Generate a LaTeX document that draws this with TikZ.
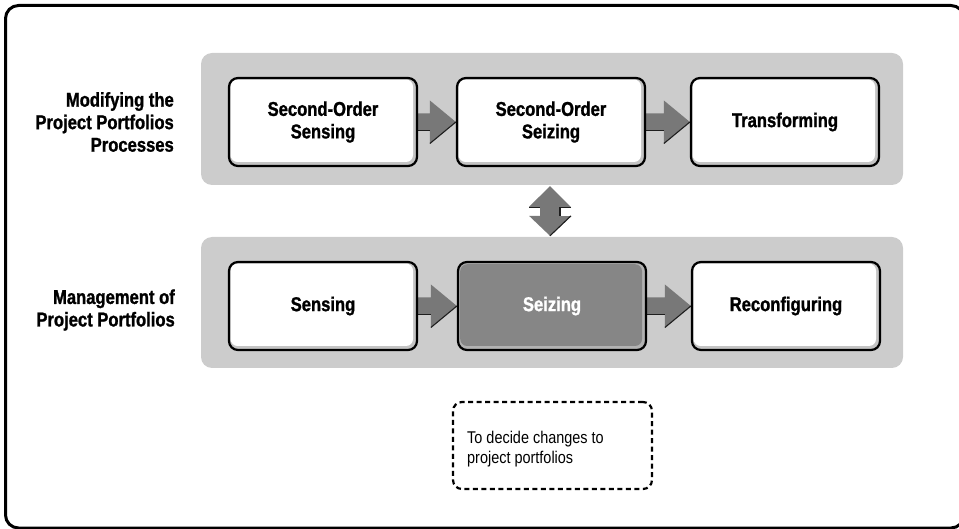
\documentclass[tikz,border=0pt]{standalone}
\usepackage{fontspec}
\setmainfont[FakeStretch=0.85,
  BoldFeatures={FakeStretch=0.83, FakeBold=1.2}]{Liberation Sans}
\usetikzlibrary{calc}
\definecolor{panelgrey}{HTML}{CCCCCC}
\definecolor{arrowgrey}{HTML}{787878}
\definecolor{edgedark}{HTML}{1E1E1E}
\definecolor{boxshade}{HTML}{C4C4C4}
\definecolor{activefill}{HTML}{868686}
\definecolor{activeshade}{HTML}{B2B2B2}
\pgfdeclarelayer{panels}
\pgfdeclarelayer{arrows}
\pgfsetlayers{panels,arrows,main}

% horizontal block arrow from the right side of one box to the left side of the next
\newcommand\flowarrow[2]{%
  \fill[arrowgrey] ($(#1.east)+(-1pt,8.5pt)$) -- ($(#2.west)+(-26pt,8.5pt)$)
    -- ($(#2.west)+(-26pt,21.5pt)$) -- (#2.west) -- ($(#2.west)+(-26pt,-21.5pt)$)
    -- ($(#2.west)+(-26pt,-8.5pt)$) -- ($(#1.east)+(-1pt,-8.5pt)$) -- cycle;
  \draw[edgedark, line width=1.1pt] ($(#1.east)+(0,-8.5pt)$) -- ($(#2.west)+(-26pt,-8.5pt)$);
  \draw[edgedark, line width=1.1pt] ($(#2.west)+(-26pt,-21.5pt)$) -- (#2.west);
}

\begin{document}
\begin{tikzpicture}[x=1pt, y=-1pt,
  frame/.style={draw=black, line width=3pt, rounded corners=13pt, inner sep=0pt},
  panel/.style={fill=panelgrey, rounded corners=11pt, inner sep=0pt},
  stepbox/.style={draw=black, line width=2.2pt, rounded corners=9pt, fill=boxshade,
    minimum width=188pt, minimum height=88pt, inner sep=0pt, align=center,
    font=\bfseries\fontsize{20}{22.5}\selectfont,
    path picture={\fill[white, rounded corners=7pt]
      ([shift={(1.6pt,-1.6pt)}]path picture bounding box.north west) rectangle
      ([shift={(-4pt,4pt)}]path picture bounding box.south east);}},
  activebox/.style={stepbox, fill=activeshade, text=white,
    path picture={\fill[activefill, rounded corners=7pt]
      ([shift={(2.2pt,-2.2pt)}]path picture bounding box.north west) rectangle
      ([shift={(-4pt,4pt)}]path picture bounding box.south east);}},
  rowlabel/.style={anchor=east, align=right, inner sep=0pt,
    font=\bfseries\fontsize{20}{22.5}\selectfont},
  notebox/.style={draw=black, line width=2.2pt, dash pattern=on 5pt off 3.5pt,
    rounded corners=9pt, minimum width=199pt, minimum height=87pt, inner sep=0pt},
  notetext/.style={anchor=west, align=left, inner sep=0pt,
    font=\fontsize{17}{20}\selectfont}]

\useasboundingbox (0,0) rectangle (959,529);

\node[frame, minimum width=958.5pt, minimum height=522.5pt] (frame) at (484.75,266.75) {};

\begin{pgfonlayer}{panels}
  \node[panel, minimum width=702pt, minimum height=132pt] (upper) at (552,119) {};
  \node[panel, minimum width=702pt, minimum height=131pt] (lower) at (552,302.5) {};
\end{pgfonlayer}

% row labels
\node[rowlabel] (labup) at (174,122) {Modifying the\\Project Portfolios\\Processes};
\node[rowlabel] (lablo) at (175,310) {Management of\\Project Portfolios};

% upper row
\node[stepbox] (sos) at (323,122) {Second-Order\\Sensing};
\node[stepbox] (soz) at (551,122) {Second-Order\\Seizing};
\node[stepbox] (tra) at (785,122) {Transforming};

% lower row
\node[stepbox]   (sen) at (323,306) {Sensing};
\node[activebox] (sei) at (552,306) {Seizing};
\node[stepbox]   (rec) at (786,306) {Reconfiguring};

\begin{pgfonlayer}{arrows}
  \flowarrow{sos}{soz}
  \flowarrow{soz}{tra}
  \flowarrow{sen}{sei}
  \flowarrow{sei}{rec}
  % two-headed arrow linking the two panels
  \coordinate (dt) at ($(upper.south)+(-2pt,-1pt)$);
  \coordinate (db) at ($(lower.north)+(-2pt,1pt)$);
  \fill[arrowgrey] (dt) -- ++(21pt,-21pt) -- ++(-11pt,0) -- ++(0,-9pt) -- ++(11pt,0)
    -- (db) -- ++(-21pt,20pt) -- ++(11pt,0) -- ++(0,9pt) -- ++(-11pt,0) -- cycle;
  \draw[edgedark, line width=1.1pt] ($(dt)+(21pt,-21pt)$) -- ++(-11pt,0) -- ++(0,-9pt);
  \draw[edgedark, line width=1.1pt] ($(dt)+(-21pt,-21pt)$) -- ++(11pt,0);
  \draw[edgedark, line width=1.1pt] ($(db)+(21pt,20pt)$) -- (db);
\end{pgfonlayer}

% annotation
\node[notebox] (note) at (552.5,445.5) {};
\node[notetext] (notetxt) at (467,449) {To decide changes to\\project portfolios};

\end{tikzpicture}
\end{document}
